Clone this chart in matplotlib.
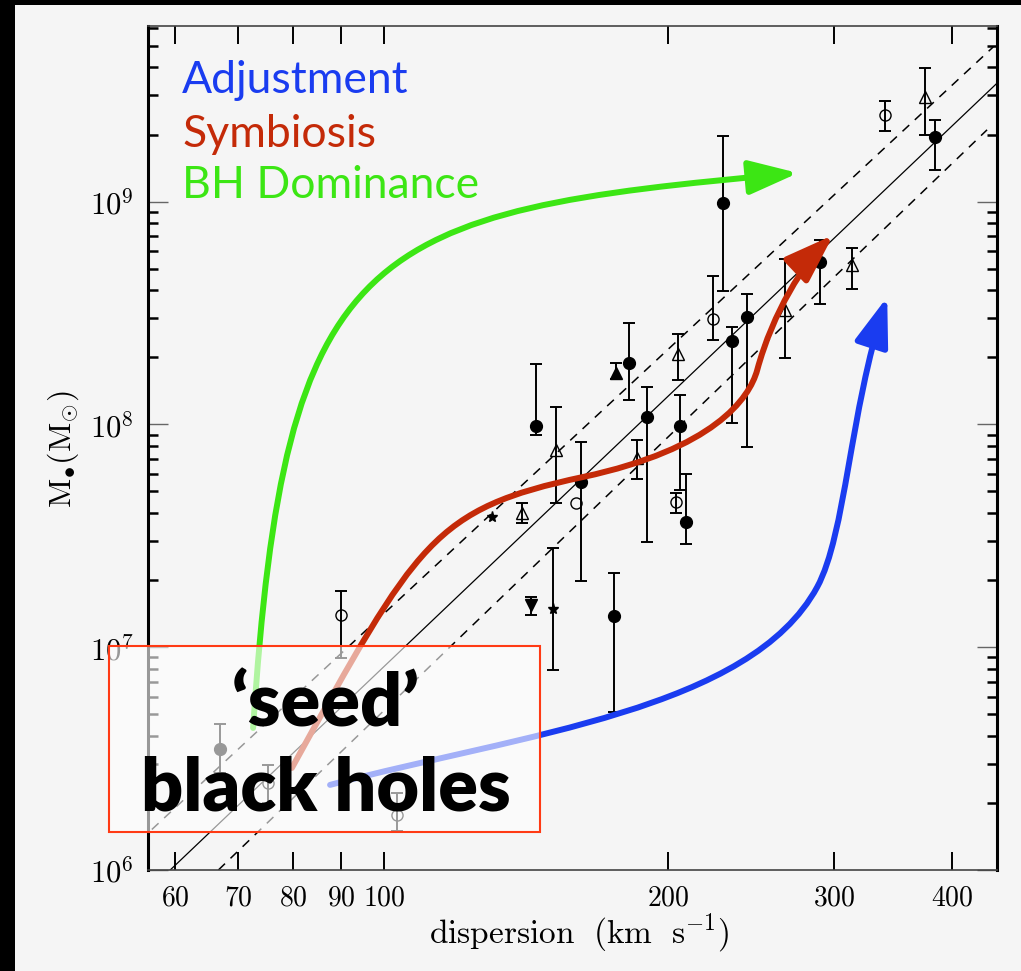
import numpy as np
import matplotlib
matplotlib.use("Agg")
import matplotlib.pyplot as plt
from matplotlib.path import Path
from matplotlib.patches import FancyArrowPatch, Rectangle
from matplotlib.ticker import FixedLocator, NullLocator, LogLocator, NullFormatter

plt.rcParams['mathtext.fontset'] = 'cm'

# --- values: sigma in km/s, black hole mass in Msun ---
# filled circles
fc_sigma = [144.7, 161.7, 181.8, 189.8, 205.9, 208.9, 228.8, 233.6, 242.3, 289.8, 383.7, 175.0, 67.0]
fc_mass = [9.84e7, 5.51e7, 1.88e8, 1.083e8, 9.84e7, 3.66e7, 9.89e8, 2.37e8, 3.04e8, 5.36e8, 1.956e9, 1.38e7, 3.49e6]
fc_lo = [8.96e7, 1.99e7, 1.287e8, 2.96e7, 5.08e7, 2.91e7, 3.98e8, 1.012e8, 7.94e7, 3.46e8, 1.386e9, 5.12e6, 2.73e6]
fc_hi = [1.867e8, 8.36e7, 2.84e8, 1.476e8, 1.355e8, 5.99e7, 1.97e9, 2.74e8, 3.84e8, 6.72e8, 2.32e9, 2.16e7, 4.52e6]

# open circles
oc_sigma = [159.7, 203.8, 223.3, 339.7, 90.0, 75.35, 103.1]
oc_mass = [4.45e7, 4.50e7, 2.96e8, 2.45e9, 1.395e7, 2.46e6, 1.765e6]
oc_lo = [4.45e7, 4.0e7, 2.39e8, 2.08e9, 8.92e6, 2.0e6, 1.50e6]
oc_hi = [4.45e7, 4.92e7, 4.64e8, 2.84e9, 1.787e7, 2.96e6, 2.22e6]

# open triangles
ot_sigma = [152.0, 185.2, 204.8, 266.1, 313.1, 374.5, 139.9]
ot_mass = [7.68e7, 7.04e7, 2.08e8, 3.26e8, 5.19e8, 2.96e9, 4.0e7]
ot_lo = [4.45e7, 5.67e7, 1.58e8, 1.98e8, 4.05e8, 1.99e9, 3.61e7]
ot_hi = [1.193e8, 8.51e7, 2.54e8, 5.51e8, 6.17e8, 3.97e9, 4.44e7]

# small filled symbols (stars / filled triangles)
fs_sigma = [130.0, 176.1, 143.1, 150.9]
fs_mass = [3.85e7, 1.70e8, 1.547e7, 1.485e7]
fs_lo = [3.85e7, 1.60e8, 1.395e7, 7.9e6]
fs_hi = [3.85e7, 1.887e8, 1.68e7, 2.78e7]
fs_marker = ['*', '^', 'v', '*']

# M-sigma fit (solid) and its bounds (dashed), end points
fit_sigma = [59.3, 446.2]
fit_mass = [1.0e6, 3.40e9]
upper_sigma = [56.7, 442.2]
upper_mass = [1.52e6, 4.95e9]
lower_sigma = [66.7, 435.5]
lower_mass = [1.0e6, 2.10e9]

# growth tracks: cubic bezier control points (start, c1, c2, end, c1, c2, end ...)
green_sigma = [72.6, 78.5, 95.0, 274.6]
green_mass = [4.34e6, 6.6e8, 9.0e8, 1.344e9]
red_sigma = [79.8, 108.5, 112.6, 162.5, 223.2, 243.7, 248.5, 258.2, 278.7, 299.2]
red_mass = [2.87e6, 3.01e7, 4.17e7, 5.81e7, 7.76e7, 1.30e8, 1.754e8, 3.19e8, 5.33e8, 7.08e8]
blue_sigma = [87.6, 140.5, 244.4, 287.7, 308.4, 311.6, 341.3]
blue_mass = [2.41e6, 4.09e6, 5.23e6, 1.863e7, 3.21e7, 1.148e8, 3.73e8]

track_names = ['Adjustment', 'Symbiosis', 'BH Dominance']
track_colors = ['#1a3cf0', '#c42a08', '#3ce614']

xtick_vals = [60, 70, 80, 90, 100, 200, 300, 400]
xtick_labels = ['$60$', '$70$', '$80$', '$90$', '$100$', '$200$', '$300$', '$400$']
ytick_vals = [1e6, 1e7, 1e8, 1e9]
ytick_labels = ['$10^6$', '$10^7$', '$10^8$', '$10^9$']

W, H = 1021, 971
fig = plt.figure(figsize=(W / 100, H / 100), dpi=100, facecolor='black')
fig.add_artist(Rectangle((15 / W, 0), 1 - 15 / W, 1 - 5 / H, transform=fig.transFigure,
                         facecolor='#f5f5f5', edgecolor='none', zorder=-10))

ax = fig.add_axes([148 / W, 1 - 870 / H, (997 - 148) / W, (870 - 25.7) / H])
ax.set_facecolor('#f5f5f5')
ax.set_xscale('log')
ax.set_yscale('log')

# fit lines
ax.plot(fit_sigma, fit_mass, color='black', lw=0.9, zorder=2)
for s, m in [(upper_sigma, upper_mass), (lower_sigma, lower_mass)]:
    ax.plot(s, m, color='black', lw=1.1, dashes=(6, 5), zorder=2)


def draw_err(sig, m, lo, hi):
    sig, m, lo, hi = map(np.asarray, (sig, m, lo, hi))
    ok = hi > lo
    ax.errorbar(sig[ok], m[ok], yerr=[m[ok] - lo[ok], hi[ok] - m[ok]], fmt='none',
                ecolor='black', elinewidth=1.4, capsize=4.5, capthick=1.4, zorder=3)


draw_err(fc_sigma, fc_mass, fc_lo, fc_hi)
draw_err(oc_sigma, oc_mass, oc_lo, oc_hi)
draw_err(ot_sigma, ot_mass, ot_lo, ot_hi)
draw_err(fs_sigma, fs_mass, fs_lo, fs_hi)

ax.plot(fc_sigma, fc_mass, 'o', ms=8.5, mfc='black', mec='black', zorder=3.5)
ax.plot(oc_sigma, oc_mass, 'o', ms=8, mfc='none', mec='black', mew=1.0, zorder=3.5)
ax.plot(ot_sigma, ot_mass, '^', ms=8, mfc='none', mec='black', mew=1.0, zorder=3.5)
for s, m, mk in zip(fs_sigma, fs_mass, fs_marker):
    ax.plot(s, m, mk, ms=8, color='black', zorder=3.5)

# growth tracks with arrow heads
for sig, mass, col in [(green_sigma, green_mass, track_colors[2]),
                       (red_sigma, red_mass, track_colors[1]),
                       (blue_sigma, blue_mass, track_colors[0])]:
    verts = list(zip(sig, mass))
    codes = [Path.MOVETO] + [Path.CURVE4] * (len(verts) - 1)
    arr = FancyArrowPatch(path=Path(verts, codes),
                          arrowstyle='-|>,head_length=0.75,head_width=0.26',
                          mutation_scale=40, lw=4.3, color=col, zorder=4,
                          transform=ax.transData)
    ax.add_patch(arr)

ax.set_xlim(56.17, 446.2)
ax.set_ylim(1e6, 6.16e9)

ax.xaxis.set_major_locator(FixedLocator(xtick_vals))
ax.xaxis.set_minor_locator(NullLocator())
ax.set_xticklabels(xtick_labels)
ax.yaxis.set_major_locator(FixedLocator(ytick_vals))
ax.yaxis.set_minor_locator(LogLocator(base=10, subs=range(2, 10)))
ax.yaxis.set_minor_formatter(NullFormatter())
ax.set_yticklabels(ytick_labels)

ax.tick_params(axis='x', which='major', direction='in', length=13, width=1.4,
               top=True, bottom=True, labelsize=20, pad=10)
ax.tick_params(axis='y', which='major', direction='in', length=14.5, width=1.0,
               color='#666666', labelcolor='black', left=True, right=True, labelsize=22, pad=10)
ax.tick_params(axis='y', which='minor', direction='in', length=7.5, width=1.8,
               left=True, right=True)

for side in ['left', 'right']:
    ax.spines[side].set_linewidth(2.2)
for side in ['top', 'bottom']:
    ax.spines[side].set_linewidth(1.2)
    ax.spines[side].set_color('#444444')

# axis titles
fig.text(63 / W, 1 - 449 / H, r'$\mathrm{M}_{\bullet}(\mathrm{M}_{\odot})$', rotation=90,
         ha='center', va='center', fontsize=23)
fig.text(579 / W, 1 - 933 / H, r'$\mathrm{dispersion\ \ (km\ \ s^{-1})}$',
         ha='center', va='center', fontsize=24)

# track names
for name, col, base in zip(track_names, track_colors, [93.3, 147, 198.3]):
    fig.text(182 / W, 1 - base / H, name, color=col, fontsize=32, family='Lato',
             ha='left', va='baseline')

# 'seed' black holes box on top of everything
box = Rectangle((109 / W, 1 - 832 / H), (540 - 109) / W, (832 - 646) / H,
                transform=fig.transFigure, facecolor=(1, 1, 1, 0.6),
                edgecolor='#ff3a14', lw=1.5, zorder=5, clip_on=False)
ax.add_patch(box)
ax.text(325 / W, 1 - 726.7 / H, '\u2018seed\u2019', transform=fig.transFigure,
        ha='center', va='baseline', fontsize=53, family='Lato', weight='heavy',
        color='black', zorder=6)
ax.text(326 / W, 1 - 810 / H, 'black holes', transform=fig.transFigure,
        ha='center', va='baseline', fontsize=53, family='Lato', weight='heavy',
        color='black', zorder=6)

fig.savefig('out.png', dpi=100, facecolor=fig.get_facecolor())
